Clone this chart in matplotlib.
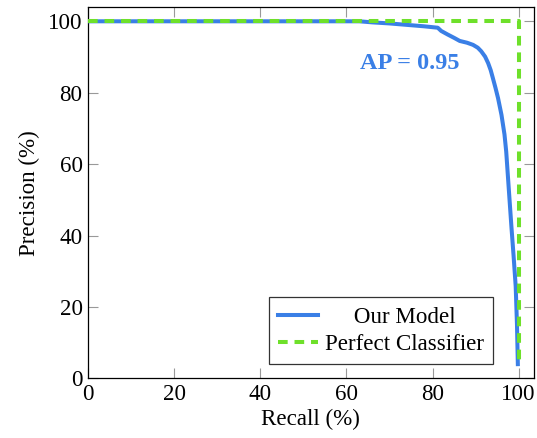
import matplotlib
matplotlib.use("Agg")
from matplotlib import pyplot as plt

# PR curve
recall = [0, 20, 40, 60, 63, 66, 70, 74, 78, 81.2, 82, 83.5, 85.1, 86.3, 88,
          89.4, 90.5, 91.3, 92.2, 92.9, 93.5, 94.0, 94.6, 95.2, 96.0, 96.7,
          97.1, 97.7, 98.3, 98.8, 99.3, 99.6, 99.8]
precision = [100, 100, 100, 100, 100, 99.7, 99.4, 99.0, 98.6, 98.2, 97.3, 96.3,
             95.3, 94.5, 94.0, 93.4, 92.6, 91.6, 90.1, 88.3, 86.3, 84.1, 81.4,
             78.5, 73.8, 68.3, 63.5, 53, 42.6, 34.5, 25.8, 15, 4]

perfect_recall = [0, 100, 100]
perfect_precision = [100, 100, 3.5]

ticks = [0, 20, 40, 60, 80, 100]
ap_text = "AP = 0.95"

blue = "#3a7fe6"
green = "#6ee02a"

plt.rcParams["font.family"] = ["Liberation Serif", "DejaVu Serif"]

fs = 16.6

fig = plt.figure(figsize=(5.37, 4.38), dpi=100)
ax = fig.add_axes([0.164, 0.136, 0.830, 0.848])

ax.plot(recall, precision, color=blue, lw=2.9, label="Our Model", zorder=3)
ax.plot(perfect_recall, perfect_precision, color=green, lw=2.9,
        dashes=(2.4, 1.7), label="Perfect Classifier", zorder=4)

ax.text(74.7, 88.3, ap_text, color=blue, fontsize=17.5, fontweight="bold",
        ha="center", va="center")

ax.set_xlim(0, 103.5)
ax.set_ylim(0, 104)
ax.set_xticks(ticks)
ax.set_yticks(ticks)
ax.tick_params(direction="in", length=7, width=0.8, color="#999999",
               top=True, right=True, labelsize=fs, pad=4)
for s in ax.spines.values():
    s.set_linewidth(0.9)

ax.set_xlabel("Recall (%)", fontsize=fs, labelpad=3)
ax.set_ylabel("Precision (%)", fontsize=fs, labelpad=6)

# pgfplots centres the legend entries
leg = ax.legend(["     Our Model", "Perfect Classifier"],
                loc="lower right", bbox_to_anchor=(0.908, 0.039),
                borderaxespad=0, fontsize=fs, frameon=True, fancybox=False,
                edgecolor="black", handlelength=1.7, borderpad=0.4,
                labelspacing=0.25, handletextpad=0.3)
leg.get_frame().set_linewidth(0.9)

fig.savefig("out.png", dpi=100)
